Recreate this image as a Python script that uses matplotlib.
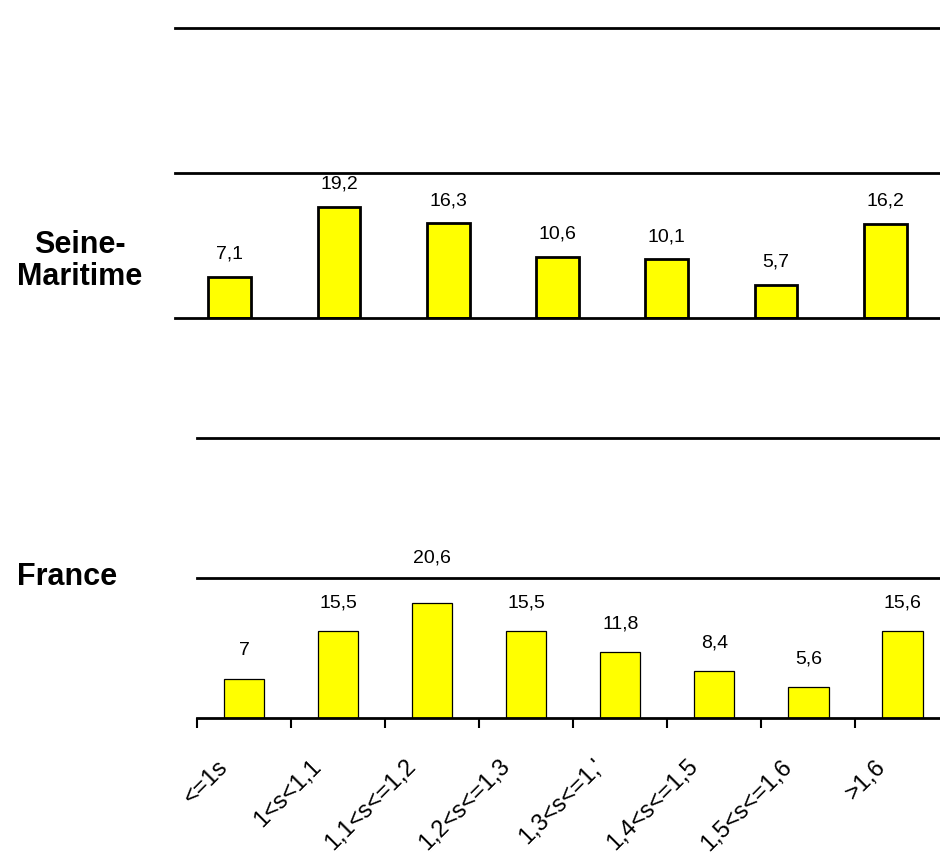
import matplotlib
matplotlib.use("Agg")
import matplotlib.pyplot as plt
import matplotlib.transforms as mtransforms
import numpy as np

plt.rcParams['font.family'] = ['Liberation Sans', 'DejaVu Sans']

# classes de durée (axe du bas)
categories = ["<=1s", "1<s<1,1", "1,1<s<=1,2", "1,2<s<=1,3",
              "1,3<s<=1,'", "1,4<s<=1,5", "1,5<s<=1,6", ">1,6"]
seine_values = [7.1, 19.2, 16.3, 10.6, 10.1, 5.7, 16.2]
france_values = [7, 15.5, 20.6, 15.5, 11.8, 8.4, 5.6, 15.6]

grid_levels = [25, 50]
bar_color = '#ffff00'


def fmt(v):
    return f"{v:g}".replace('.', ',')


fig = plt.figure(figsize=(9.4, 8.56), dpi=100)

# --- panneau haut : Seine-Maritime ---
ax1 = fig.add_axes([175/940, (856-318)/856, 765/940, 290/856])
x1 = np.arange(len(seine_values))
ax1.bar(x1, seine_values, width=0.39, color=bar_color, edgecolor='black', linewidth=2)
for xi, v in zip(x1, seine_values):
    ax1.annotate(fmt(v), (xi, v), xytext=(0, 13), textcoords='offset points',
                 ha='center', va='baseline', fontsize=14)
ax1.set_xlim(-0.5, len(seine_values) - 0.5)
ax1.set_ylim(0, 50)

# --- panneau bas : France ---
ax2 = fig.add_axes([197/940, (856-718)/856, 743/940, 280/856])
x2 = np.arange(len(france_values))
ax2.bar(x2, france_values, width=0.43, color=bar_color, edgecolor='black', linewidth=0.9)
for xi, v in zip(x2, france_values):
    # étiquette remontée au-dessus du quadrillage si elle le chevauche
    if v + 5 > grid_levels[0] and v < grid_levels[0]:
        ax2.annotate(fmt(v), (xi, grid_levels[0]), xytext=(0, 11.5), textcoords='offset points',
                     ha='center', va='baseline', fontsize=14)
    else:
        ax2.annotate(fmt(v), (xi, v), xytext=(0, 17), textcoords='offset points',
                     ha='center', va='baseline', fontsize=14)
ax2.set_xlim(-0.5, len(france_values) - 0.6)
ax2.set_ylim(0, 50)

for ax in (ax1, ax2):
    for s in ['top', 'right', 'left']:
        ax.spines[s].set_visible(False)
    ax.spines['bottom'].set_linewidth(2)
    ax.set_yticks([])
    for g in grid_levels:
        ax.axhline(g, color='black', linewidth=2, clip_on=False, zorder=0)

ax1.set_xticks([])

ax2.set_xticks(x2)
ax2.set_xticklabels(categories, rotation=45, ha='right', fontsize=17)
ax2.set_xticks(np.arange(len(france_values)) - 0.5, minor=True)
ax2.tick_params(axis='x', which='major', length=0, pad=27)
ax2.tick_params(axis='x', which='minor', length=7, width=1.5, direction='out')
shift = mtransforms.ScaledTranslation(-12/100, 0, fig.dpi_scale_trans)
for lab in ax2.get_xticklabels():
    lab.set_transform(lab.get_transform() + shift)

fig.text(80/940, 1 - 261/856, "Seine-\nMaritime", ha='center', va='center',
         fontsize=22, fontweight='bold', linespacing=1.05)
fig.text(67/940, 1 - 577/856, "France", ha='center', va='center',
         fontsize=22, fontweight='bold')

fig.savefig('out.png', dpi=100)
